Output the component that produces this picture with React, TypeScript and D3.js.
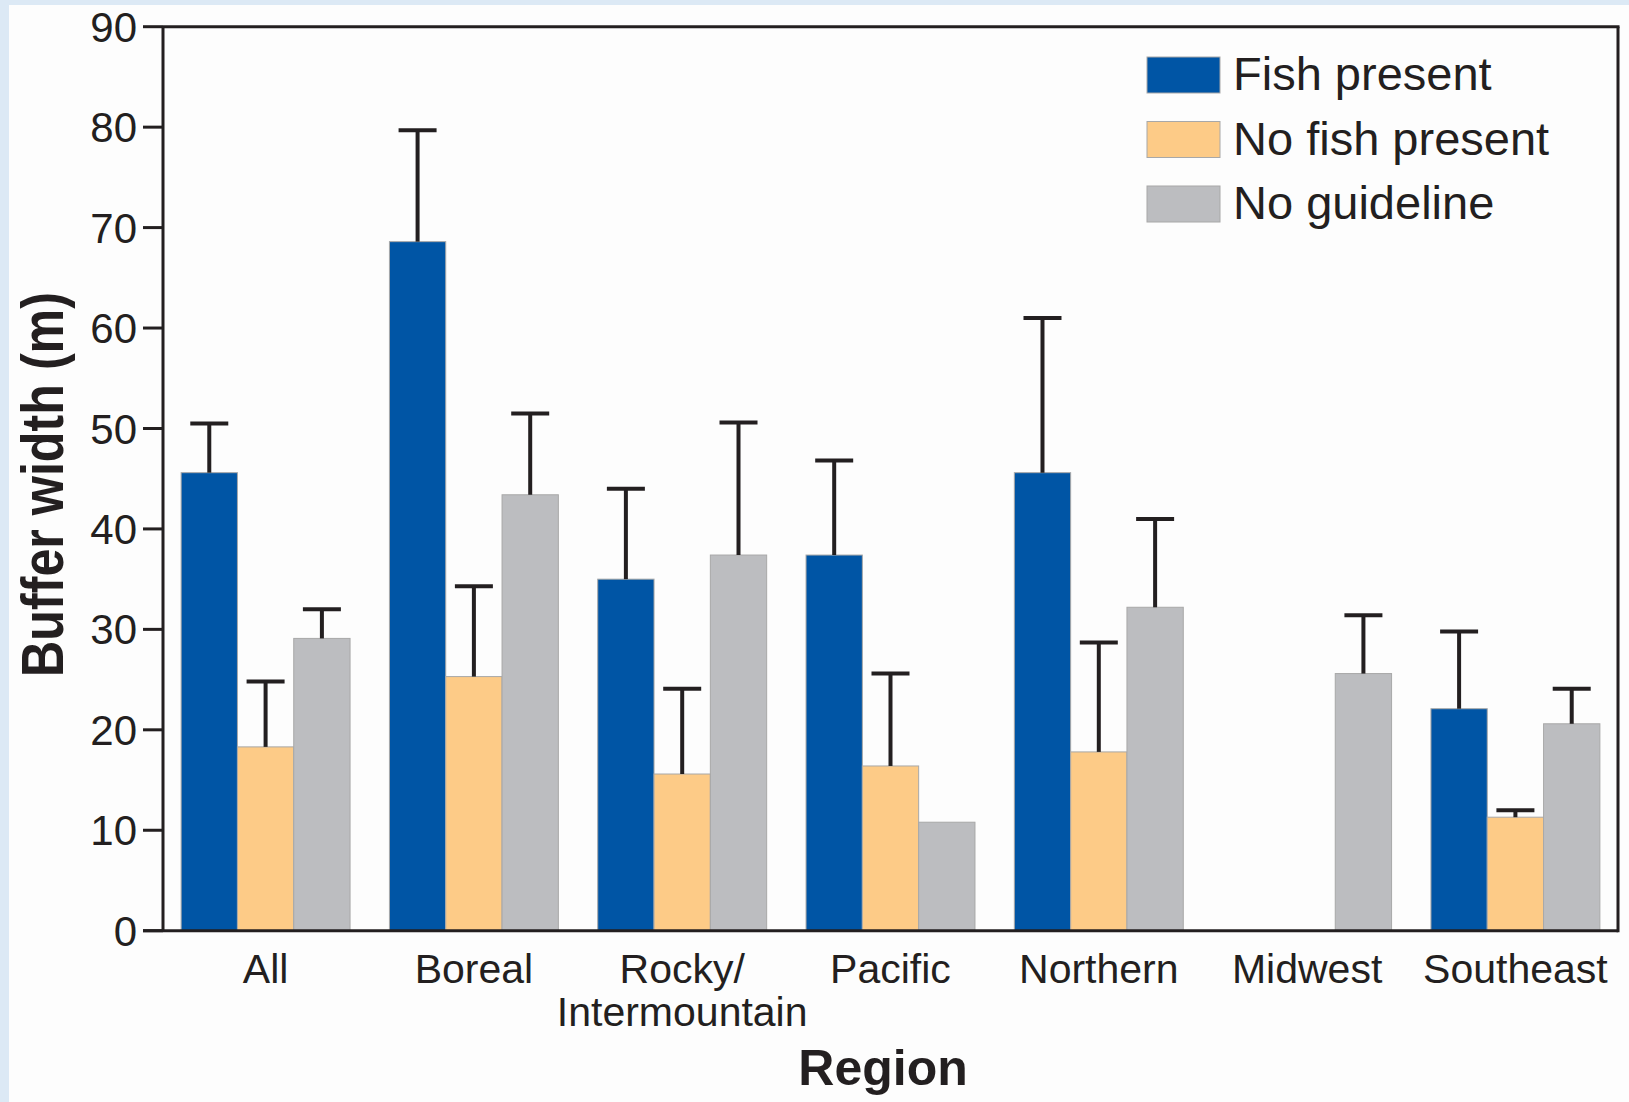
import React from "react";
import * as d3 from "d3";

const categories = ["All", "Boreal", "Rocky/\nIntermountain", "Pacific", "Northern", "Midwest", "Southeast"];
const seriesNames = ["Fish present", "No fish present", "No guideline"];
const fishPresent: (number | null)[] = [45.6, 68.6, 35.0, 37.4, 45.6, null, 22.1];
const fishPresentErr: (number | null)[] = [50.5, 79.7, 44.0, 46.8, 61.0, null, 29.8];
const noFish: (number | null)[] = [18.3, 25.3, 15.6, 16.4, 17.8, null, 11.3];
const noFishErr: (number | null)[] = [24.8, 34.3, 24.1, 25.6, 28.7, null, 12.0];
const noGuideline: (number | null)[] = [29.1, 43.4, 37.4, 10.8, 32.2, 25.6, 20.6];
const noGuidelineErr: (number | null)[] = [32.0, 51.5, 50.6, null, 41.0, 31.4, 24.1];
const yTicks = [0, 10, 20, 30, 40, 50, 60, 70, 80, 90];
const colors = ["#0055a5", "#fdcb87", "#bcbdc0"];

const W = 1629;
const H = 1102;
const left = 163;
const right = 1618;
const top = 26.7;
const bottom = 930.7;
const FONT = "'Liberation Sans', Arial, sans-serif";

export default function App() {
  const x = d3.scaleBand<string>().domain(categories).range([left, right]).paddingInner(0.189).paddingOuter(0.087);
  const xs = d3.scaleBand<string>().domain(seriesNames).range([0, x.bandwidth()]);
  const y = d3.scaleLinear().domain([0, 90]).range([bottom, top]);
  const values = [fishPresent, noFish, noGuideline];
  const errs = [fishPresentErr, noFishErr, noGuidelineErr];
  const capW = 38;

  return (
    <svg width={W} height={H} style={{ position: "absolute", left: 0, top: 0 }} fontFamily={FONT}>
      <rect x={0} y={0} width={W} height={H} fill="#dce9f5" />
      <rect x={9} y={5} width={W - 9} height={H - 5} fill="#fdfdfd" />
      {/* bars */}
      {categories.map((c, ci) =>
        seriesNames.map((s, si) => {
          const v = values[si][ci];
          if (v == null) return null;
          const bx = (x(c) as number) + (xs(s) as number);
          return (
            <rect key={c + s} x={bx} y={y(v)} width={xs.bandwidth()} height={bottom - y(v)} fill={colors[si]} stroke="#a8a8a8" strokeWidth={1} />
          );
        })
      )}
      {/* error bars */}
      {categories.map((c, ci) =>
        seriesNames.map((s, si) => {
          const v = values[si][ci];
          const e = errs[si][ci];
          if (v == null || e == null) return null;
          const cx = (x(c) as number) + (xs(s) as number) + xs.bandwidth() / 2;
          return (
            <g key={"e" + c + s} stroke="#231f20" strokeWidth={4}>
              <line x1={cx} x2={cx} y1={y(v)} y2={y(e)} />
              <line x1={cx - capW / 2} x2={cx + capW / 2} y1={y(e)} y2={y(e)} />
            </g>
          );
        })
      )}
      {/* frame */}
      <g stroke="#231f20" strokeWidth={3} fill="none">
        <line x1={left} x2={right + 1.5} y1={top} y2={top} />
        <line x1={right} x2={right} y1={top} y2={bottom + 1.5} />
        <line x1={left} x2={left} y1={top} y2={bottom} />
        <line x1={143} x2={right} y1={bottom} y2={bottom} />
        {yTicks.map((t) => (
          <line key={t} x1={143} x2={left} y1={y(t)} y2={y(t)} />
        ))}
      </g>
      {yTicks.map((t) => (
        <text key={"t" + t} x={137} y={y(t)} dy="0.36em" textAnchor="end" fontSize={42} fill="#231f20">
          {t}
        </text>
      ))}
      {categories.map((c) => {
        const lines = c.split("\n");
        const cx = (x(c) as number) + x.bandwidth() / 2;
        return (
          <text key={"c" + c} x={cx} y={983} textAnchor="middle" fontSize={41} fill="#231f20">
            {lines.map((l, i) => (
              <tspan key={i} x={cx} dy={i === 0 ? 0 : 43}>
                {l}
              </tspan>
            ))}
          </text>
        );
      })}
      <text x={883} y={1085} textAnchor="middle" fontSize={50} fontWeight="bold" fill="#231f20">
        Region
      </text>
      <text
        transform={`translate(63,484.5) rotate(-90)`}
        textAnchor="middle"
        fontSize={60}
        fontWeight="bold"
        fill="#231f20"
        textLength={385}
        lengthAdjust="spacingAndGlyphs"
      >
        Buffer width (m)
      </text>
      {/* legend */}
      {seriesNames.map((s, i) => (
        <g key={"l" + s} transform={`translate(1147,${57 + i * 64.5})`}>
          <rect x={0} y={0} width={73} height={36} fill={colors[i]} stroke="#a8a8a8" strokeWidth={1} />
          <text x={86} y={33} fontSize={47} fill="#231f20">
            {s}
          </text>
        </g>
      ))}
    </svg>
  );
}
